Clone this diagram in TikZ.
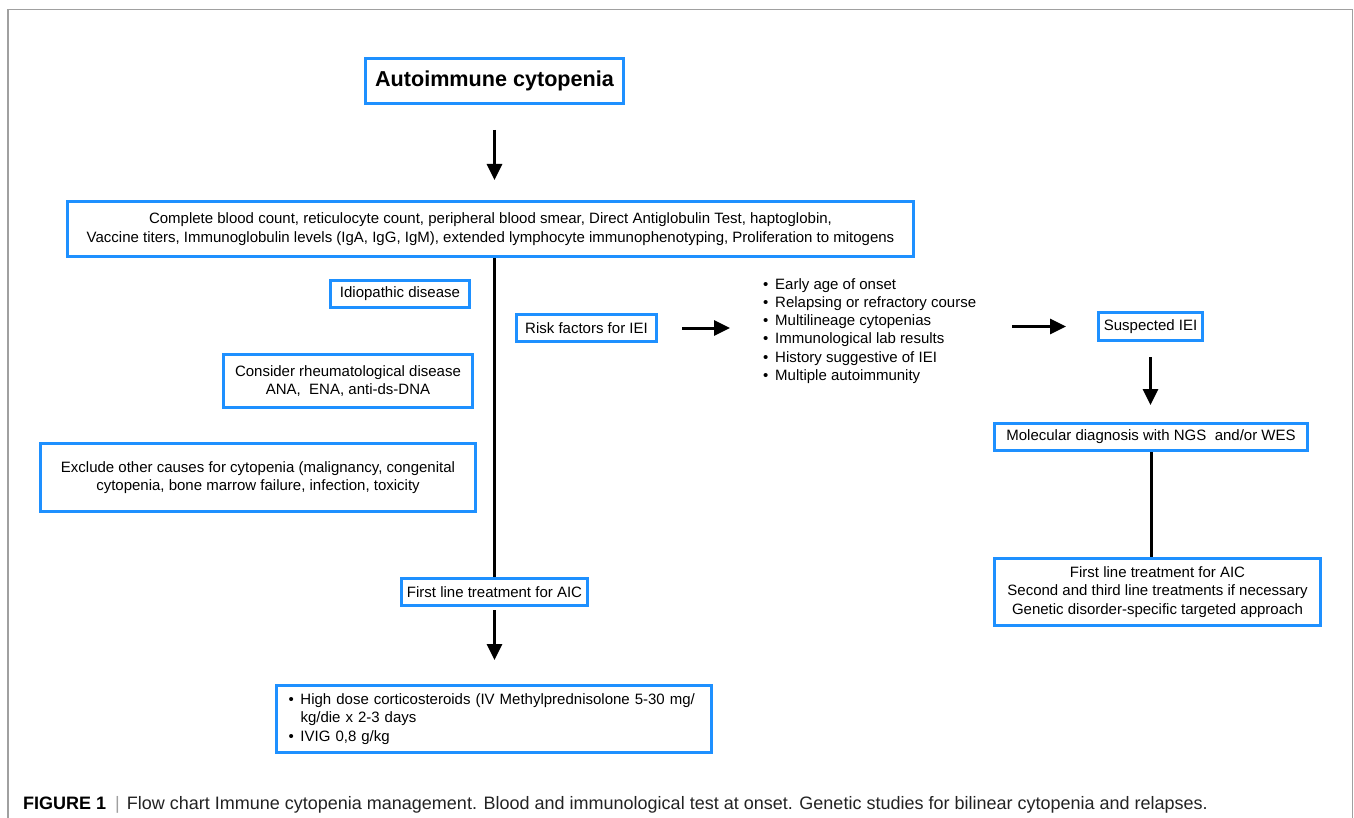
\documentclass[tikz,border=0pt]{standalone}
\usepackage{fontspec}
\setmainfont{Liberation Sans}
\usetikzlibrary{arrows.meta}
\definecolor{boxblue}{RGB}{30,144,255}
\definecolor{framegray}{RGB}{160,160,160}
\definecolor{captext}{RGB}{35,35,35}
\newcommand{\bodyfs}{\fontsize{15}{18.5}\selectfont}
\newcommand{\bul}{\makebox[12pt][l]{•}}
\tikzset{
  bx/.style={draw=boxblue, line width=3pt, inner sep=0pt, align=center, font=\bodyfs},
  arr/.style={line width=3pt, -{Triangle[length=16pt,width=15pt]}},
  conn/.style={line width=3pt},
}
\begin{document}
\begin{tikzpicture}[x=1pt,y=-1pt]
\useasboundingbox (0,0) rectangle (1354,818);
\fill[white] (0,0) rectangle (1354,818);
% frame
\draw[framegray, line width=1.5pt] (8,818) -- (8,9.5) -- (1352.5,9.5) -- (1352.5,818);

% nodes
\node[bx, minimum width=258pt, minimum height=45pt, font=\fontsize{21.6}{26}\selectfont\bfseries] (title) at (494.5,81) {Autoimmune cytopenia};
\node[bx, minimum width=846pt, minimum height=55pt, font=\fontsize{15}{19}\selectfont] (big) at (490.5,229)
 {Complete blood count, reticulocyte count, peripheral blood smear, Direct Antiglobulin Test, haptoglobin,\\
  Vaccine titers, Immunoglobulin levels (IgA, IgG, IgM), extended lymphocyte immunophenotyping, Proliferation to mitogens};
\node[bx, minimum width=139pt, minimum height=27pt] (idio) at (400,294) {Idiopathic disease};
\node[bx, minimum width=249pt, minimum height=53pt] (rheum) at (348,381) {Consider rheumatological disease\\ANA,\ \ ENA, anti-ds-DNA};
\node[bx, minimum width=435pt, minimum height=68pt] (excl) at (258,477.5) {Exclude other causes for cytopenia (malignancy, congenital\\cytopenia, bone marrow failure, infection, toxicity};
\node[bx, minimum width=186pt, minimum height=27pt] (first) at (494.5,592) {First line treatment for AIC};
\node[bx, minimum width=435pt, minimum height=67pt, text width=411pt, inner xsep=12pt, align=left] (treat) at (494,719)
 {\bul High dose corticosteroids (IV Methylprednisolone 5-30 mg/\\
  \hspace*{12pt}kg/die x 2-3 days\\
  \bul IVIG 0,8 g/kg};
\node[bx, minimum width=140pt, minimum height=27pt] (risk) at (586.5,328) {Risk factors for IEI};
\node[inner sep=0pt, anchor=west, align=left, font=\fontsize{15}{18.2}\selectfont] (list) at (763,331)
 {\bul Early age of onset\\
  \bul Relapsing or refractory course\\
  \bul Multilineage cytopenias\\
  \bul Immunological lab results\\
  \bul History suggestive of IEI\\
  \bul Multiple autoimmunity};
\node[bx, minimum width=104pt, minimum height=28pt] (susp) at (1150.5,326.5) {Suspected IEI};
\node[bx, minimum width=313pt, minimum height=27pt] (mol) at (1151,437) {Molecular diagnosis with NGS\ \ and/or WES};
\node[bx, minimum width=326pt, minimum height=67pt] (final) at (1157.5,592)
 {First line treatment for AIC\\Second and third line treatments if necessary\\Genetic disorder-specific targeted approach};

% connectors
\draw[arr, shorten <=25pt, shorten >=20pt] (title.south) -- (title.south |- big.north);
\draw[conn] (first.north |- big.south) -- (first.north);
\draw[arr, shorten <=3pt, shorten >=24pt] (first.south) -- (first.south |- treat.north);
\draw[arr, shorten <=24pt, shorten >=33pt] (risk.east) -- (risk.east -| list.west);
\draw[arr, shorten <=36pt, shorten >=31pt] (list.east |- susp.west) -- (susp.west);
\draw[arr, shorten <=15pt, shorten >=17pt] (susp.south) -- (susp.south |- mol.north);
\draw[conn] (mol.south) -- (mol.south |- final.north);

% caption
\node[anchor=west, inner sep=0pt, font=\fontsize{18}{22}\selectfont, text=captext] (cap) at (23,805)
 {{\color{black}\bfseries FIGURE 1}\hspace{9pt}{\color{framegray}|}\hspace{7pt}Flow chart Immune cytopenia management. Blood and immunological test at onset. Genetic studies for bilinear cytopenia and relapses.};
\end{tikzpicture}
\end{document}
